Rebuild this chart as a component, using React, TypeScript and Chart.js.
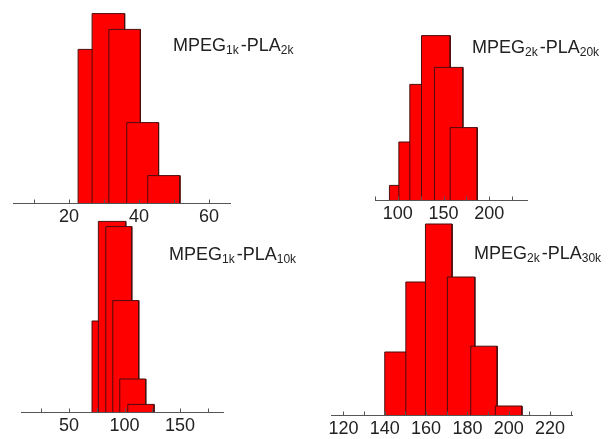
import React, { useEffect, useRef } from "react";
import { Chart, registerables } from "chart.js";

Chart.register(...registerables);

// ---- Data (bin edges in nm, relative frequency) ----
// Panel A: MPEG1k-PLA2k
const aBinLeft = [22.6, 26.6, 31.4, 36.5, 42.5];
const aBinRight = [31.8, 35.9, 40.4, 45.6, 51.7];
const aFreq = [76.8, 94.7, 86.8, 40.2, 13.7];
const aTicks = [10, 20, 30, 40, 50, 60];
const aLabels = [20, 40, 60];

// Panel B: MPEG2k-PLA20k
const bBinLeft = [90.8, 101.1, 113.1, 125.9, 140.1, 157.3];
const bBinRight = [121.0, 131.0, 143.0, 157.3, 171.2, 186.9];
const bFreq = [7.3, 29.0, 57.8, 82.2, 66.3, 36.2];
const bTicks = [75, 100, 125, 150, 175, 200, 225];
const bLabels = [100, 150, 200];

// Panel C: MPEG1k-PLA10k
const cBinLeft = [70.7, 76.4, 83.1, 89.4, 95.7, 102.9];
const cBinRight = [94.0, 101.1, 106.5, 112.8, 119.1, 126.6];
const cFreq = [45.5, 95.3, 92.7, 55.7, 16.5, 3.8];
const cTicks = [25, 50, 75, 100, 125, 150, 175];
const cLabels = [50, 100, 150];

// Panel D: MPEG2k-PLA30k
const dBinLeft = [140.0, 150.2, 159.7, 170.3, 181.6, 193.5];
const dBinRight = [153.0, 163.0, 172.6, 183.6, 194.4, 206.4];
const dFreq = [31.5, 66.5, 95.5, 69.0, 34.4, 4.5];
const dTicks = [120, 130, 140, 150, 160, 170, 180, 190, 200, 210, 220, 230];
const dLabels = [120, 140, 160, 180, 200, 220];

const PAD = 15;
const AXIS_H = 30;
const PLOT_H = 200;
const FONT = "'Liberation Sans', Arial, Helvetica, sans-serif";

const innerTicks = {
  id: "innerTicks",
  afterDraw(chart: any) {
    const s = chart.scales.x;
    const ctx = chart.ctx;
    const y = chart.chartArea.bottom;
    ctx.save();
    ctx.strokeStyle = "#555";
    ctx.lineWidth = 1;
    ctx.beginPath();
    s.ticks.forEach((t: any) => {
      const x = Math.round(s.getPixelForValue(t.value)) + 0.5;
      ctx.moveTo(x, y);
      ctx.lineTo(x, y - 3.5);
    });
    ctx.stroke();
    ctx.restore();
  },
};

type PanelProps = {
  x0: number;
  x1: number;
  axisY: number;
  xMin: number;
  xMax: number;
  binLeft: number[];
  binRight: number[];
  freq: number[];
  ticks: number[];
  labels: number[];
};

function Panel(p: PanelProps) {
  const ref = useRef<HTMLCanvasElement | null>(null);
  useEffect(() => {
    if (!ref.current) return;
    const n = p.freq.length;
    const datasets = p.freq.map((h, i) => ({
      data: [
        { x: p.binLeft[i], y: 0 },
        { x: p.binLeft[i], y: h },
        { x: p.binRight[i], y: h },
        { x: p.binRight[i], y: 0 },
      ],
      fill: "origin",
      backgroundColor: "#ff0000",
      borderColor: "#4a0d0d",
      borderWidth: 1,
      pointRadius: 0,
      tension: 0,
      order: n - i,
    }));
    const chart = new Chart(ref.current, {
      type: "line",
      data: { datasets } as any,
      options: {
        animation: false,
        responsive: false,
        events: [],
        layout: { padding: { left: PAD, right: PAD, top: 0, bottom: 0 } },
        plugins: { legend: { display: false }, tooltip: { enabled: false } },
        scales: {
          x: {
            type: "linear",
            min: p.xMin,
            max: p.xMax,
            grid: { display: false, drawTicks: false },
            border: { display: true, color: "#555", width: 1 },
            afterBuildTicks: (scale: any) => {
              scale.ticks = p.ticks.map((v) => ({ value: v }));
            },
            afterFit: (scale: any) => {
              scale.height = AXIS_H;
              scale.paddingLeft = 0;
              scale.paddingRight = 0;
            },
            ticks: {
              autoSkip: false,
              maxRotation: 0,
              minRotation: 0,
              padding: 3,
              color: "#222",
              font: { family: FONT, size: 18 },
              callback: (v: any) => (p.labels.includes(Number(v)) ? String(v) : ""),
            },
          },
          y: { display: false, min: 0, max: 100 },
        },
      },
      plugins: [innerTicks],
    } as any);
    return () => chart.destroy();
  }, []);
  const w = p.x1 - p.x0 + 2 * PAD;
  const h = PLOT_H + AXIS_H;
  return (
    <canvas
      ref={ref}
      width={w}
      height={h}
      style={{ position: "absolute", left: p.x0 - PAD, top: p.axisY - PLOT_H, width: w, height: h }}
    />
  );
}

function Title({ x, base, a, aSub, b, bSub }: { x: number; base: number; a: string; aSub: string; b: string; bSub: string }) {
  const sub: React.CSSProperties = { fontSize: 12, position: "relative", top: 3 };
  return (
    <div
      style={{
        position: "absolute",
        left: x,
        top: base - 15.2,
        fontFamily: FONT,
        fontSize: 18,
        lineHeight: "18px",
        whiteSpace: "nowrap",
        color: "#222",
      }}
    >
      {a}
      <span style={{ ...sub, marginRight: 2 }}>{aSub}</span>
      {b}
      <span style={sub}>{bSub}</span>
    </div>
  );
}

export default function App() {
  return (
    <div
      style={{
        position: "fixed",
        left: 0,
        top: 0,
        width: 610,
        height: 439,
        overflow: "hidden",
        background: "#fff",
      }}
    >
      <Panel x0={13} x1={230} axisY={203} xMin={4} xMax={66} binLeft={aBinLeft} binRight={aBinRight} freq={aFreq} ticks={aTicks} labels={aLabels} />
      <Panel x0={375} x1={527} axisY={200} xMin={75} xMax={241.4} binLeft={bBinLeft} binRight={bBinRight} freq={bFreq} ticks={bTicks} labels={bLabels} />
      <Panel x0={21} x1={223} axisY={412} xMin={6.7} xMax={188.7} binLeft={cBinLeft} binRight={cBinRight} freq={cFreq} ticks={cTicks} labels={cLabels} />
      <Panel x0={331} x1={572} axisY={415} xMin={114} xMax={230.6} binLeft={dBinLeft} binRight={dBinRight} freq={dFreq} ticks={dTicks} labels={dLabels} />
      <Title x={173} base={51.5} a="MPEG" aSub="1k" b="-PLA" bSub="2k" />
      <Title x={472} base={53.5} a="MPEG" aSub="2k" b="-PLA" bSub="20k" />
      <Title x={169} base={260} a="MPEG" aSub="1k" b="-PLA" bSub="10k" />
      <Title x={474} base={259.5} a="MPEG" aSub="2k" b="-PLA" bSub="30k" />
    </div>
  );
}
